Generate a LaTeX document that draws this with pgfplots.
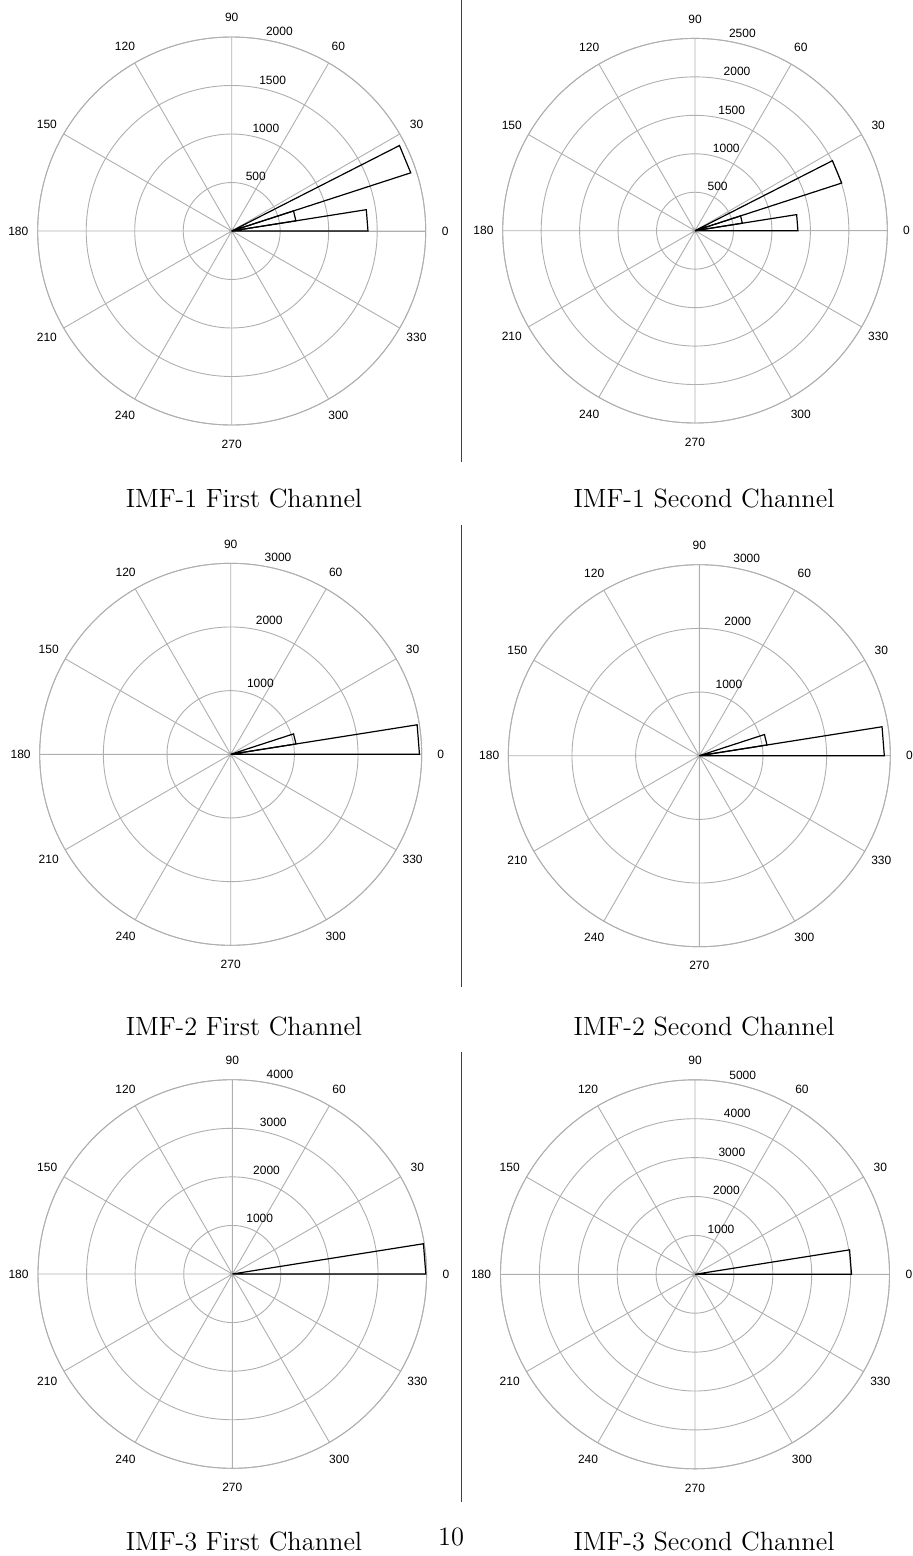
\documentclass[border=0pt]{standalone}
\usepackage{fontspec}
\usepackage{pgfplots}
\pgfplotsset{compat=1.18}
\usepgfplotslibrary{polar}
\newfontfamily\mlfont{Liberation Sans}
\definecolor{gridgray}{RGB}{175,175,175}
\newcommand{\tfont}{\mlfont\fontsize{6}{7}\selectfont}
\newcommand{\capfont}{\fontsize{13.2}{15}\selectfont}
\pgfplotsset{
  rose/.style={
    scale only axis, clip=false, anchor=center,
    xmin=0, xmax=360, ymin=0,
    xtick={0,30,...,330}, xticklabels={}, yticklabels={},
    grid=major,
    major grid style={draw=gridgray, line width=0.45pt},
    axis line style={draw=gridgray, line width=0.45pt},
    tick style={draw=none},
    every axis plot post/.append style={draw=black, mark=none, line width=0.6pt},
  }
}
\newcommand{\anglabels}[1]{%
  \pgfplotsinvokeforeach{0,30,...,330}{\node[font=\tfont, inner sep=0pt] at (axis cs:##1,#1) {##1};}}
\newcommand{\rlab}[2]{\node[font=\tfont, inner sep=0pt, anchor=south west, xshift=3.3pt] at (axis cs:82,#1) {#2};}

\begin{document}
\begin{tikzpicture}[x=0.5pt,y=0.5pt]
\useasboundingbox (0,0) rectangle (912,-1556);

% ---------- IMF-1 First Channel ----------
\begin{polaraxis}[rose, at={({231.7*0.5pt},{-231*0.5pt})}, width=194pt, height=194pt, ymax=2000, ytick={500,1000,1500,2000}]
\addplot coordinates {(0,0) (0,1405) (9,1405) (9,0)};
\addplot coordinates {(9,0) (9,670) (18,670) (18,0)};
\addplot coordinates {(18,0) (18,1941) (27,1941) (27,0)};
\anglabels{2200}
\rlab{525}{500}\rlab{1025}{1000}\rlab{1525}{1500}\rlab{2025}{2000}
\end{polaraxis}

% ---------- IMF-1 Second Channel ----------
\begin{polaraxis}[rose, at={({695*0.5pt},{-230.7*0.5pt})}, width=192.3pt, height=192.3pt, ymax=2500, ytick={500,1000,1500,2000,2500}]
\addplot coordinates {(0,0) (0,1338) (9,1338) (9,0)};
\addplot coordinates {(9,0) (9,623) (18,623) (18,0)};
\addplot coordinates {(18,0) (18,2005) (27,2005) (27,0)};
\anglabels{2750}
\rlab{525}{500}\rlab{1025}{1000}\rlab{1525}{1500}\rlab{2025}{2000}\rlab{2525}{2500}
\end{polaraxis}

% ---------- IMF-2 First Channel ----------
\begin{polaraxis}[rose, at={({230.7*0.5pt},{-754.3*0.5pt})}, width=191pt, height=191pt, ymax=3000, ytick={1000,2000,3000}]
\addplot coordinates {(0,0) (0,2965) (9,2965) (9,0)};
\addplot coordinates {(9,0) (9,1038) (18,1038) (18,0)};
\anglabels{3300}
\rlab{1050}{1000}\rlab{2050}{2000}\rlab{3050}{3000}
\end{polaraxis}

% ---------- IMF-2 Second Channel ----------
\begin{polaraxis}[rose, at={({699.3*0.5pt},{-755.7*0.5pt})}, width=191pt, height=191pt, ymax=3000, ytick={1000,2000,3000}]
\addplot coordinates {(0,0) (0,2906) (9,2906) (9,0)};
\addplot coordinates {(9,0) (9,1076) (18,1076) (18,0)};
\anglabels{3300}
\rlab{1050}{1000}\rlab{2050}{2000}\rlab{3050}{3000}
\end{polaraxis}

% ---------- IMF-3 First Channel ----------
\begin{polaraxis}[rose, at={({232.3*0.5pt},{-1274*0.5pt})}, width=194.3pt, height=194.3pt, ymax=4000, ytick={1000,2000,3000,4000}]
\addplot coordinates {(0,0) (0,3984) (9,3984) (9,0)};
\anglabels{4400}
\rlab{1050}{1000}\rlab{2050}{2000}\rlab{3050}{3000}\rlab{4050}{4000}
\end{polaraxis}

% ---------- IMF-3 Second Channel ----------
\begin{polaraxis}[rose, at={({695*0.5pt},{-1274.3*0.5pt})}, width=194.5pt, height=194.5pt, ymax=5000, ytick={1000,2000,3000,4000,5000}]
\addplot coordinates {(0,0) (0,4023) (9,4023) (9,0)};
\anglabels{5500}
\rlab{1050}{1000}\rlab{2050}{2000}\rlab{3050}{3000}\rlab{4050}{4000}\rlab{5050}{5000}
\end{polaraxis}

% separators
\draw[black!75, line width=0.7pt] (461.5,0) -- (461.5,-462);
\draw[black!75, line width=0.7pt] (461.5,-525) -- (461.5,-987);
\draw[black!75, line width=0.7pt] (461.5,-1052) -- (461.5,-1502);

% captions
\node[font=\capfont, anchor=base, inner sep=0pt] at (244,-507) {IMF-1 First Channel};
\node[font=\capfont, anchor=base, inner sep=0pt] at (704,-507) {IMF-1 Second Channel};
\node[font=\capfont, anchor=base, inner sep=0pt] at (244,-1035) {IMF-2 First Channel};
\node[font=\capfont, anchor=base, inner sep=0pt] at (704,-1035) {IMF-2 Second Channel};
\node[font=\capfont, anchor=base, inner sep=0pt] at (244,-1550.7) {IMF-3 First Channel};
\node[font=\capfont, anchor=base, inner sep=0pt] at (704,-1550.7) {IMF-3 Second Channel};
\node[font=\capfont, anchor=base, inner sep=0pt] at (451,-1545.5) {10};
\end{tikzpicture}
\end{document}
